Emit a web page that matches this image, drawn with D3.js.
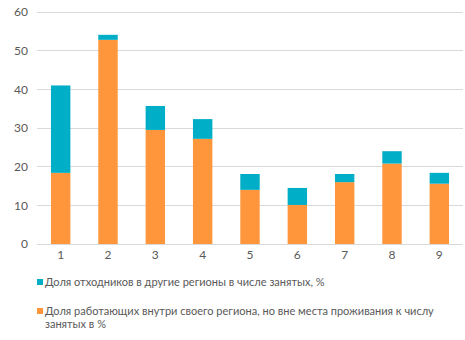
<!DOCTYPE html>
<html><head><meta charset="utf-8">
<script src="https://cdn.jsdelivr.net/npm/d3@7"></script>
<style>body{margin:0;background:#fff}text{font-family:Lato,"Open Sans",sans-serif;fill:#595959}</style>
</head><body><svg id="c" width="465" height="340"></svg>
<script>
const categories = ["1","2","3","4","5","6","7","8","9"];
const intraRegion = [18.4, 52.8, 29.5, 27.2, 14.0, 10.1, 16.0, 20.8, 15.6];
const otkhodniki = [22.6, 1.3, 6.2, 5.1, 4.1, 4.4, 2.1, 3.2, 2.8];
const yTicks = [0, 10, 20, 30, 40, 50, 60];
const seriesNames = ["Доля отходников в другие регионы в числе занятых, %",
  "Доля работающих внутри своего региона, но вне места проживания к числу занятых в %"];
const colors = ["#00AEC7", "#FF963C"];

const svg = d3.select("#c");
const x = d3.scaleBand().domain(categories).range([37, 463]).paddingInner(0.59).paddingOuter(0.295);
const y = d3.scaleLinear().domain([0, 60]).range([244, 12]);

svg.append("g").selectAll("line").data(yTicks).join("line")
  .attr("x1", 37).attr("x2", 463).attr("y1", d => y(d)).attr("y2", d => y(d))
  .attr("stroke", "#d9d9d9").attr("stroke-width", 1).attr("shape-rendering", "crispEdges");

const yAxis = svg.append("g").attr("transform", "translate(28,0)")
  .call(d3.axisLeft(y).tickValues(yTicks).tickSize(0).tickPadding(0));
yAxis.select(".domain").remove();
yAxis.selectAll("text").style("font-size", "12px").style("fill", "#595959").style("font-family", "Lato,sans-serif");

const xAxis = svg.append("g").attr("transform", "translate(0,250)")
  .call(d3.axisBottom(x).tickSize(0).tickPadding(0));
xAxis.select(".domain").remove();
xAxis.selectAll("text").style("font-size", "12px").style("fill", "#595959").style("font-family", "Lato,sans-serif");

const stacked = categories.map((c, i) => ({c, a: intraRegion[i], b: otkhodniki[i]}));
svg.append("g").selectAll("rect").data(stacked).join("rect")
  .attr("x", d => x(d.c)).attr("width", x.bandwidth())
  .attr("y", d => y(d.a)).attr("height", d => y(0) - y(d.a)).attr("fill", colors[1]);
svg.append("g").selectAll("rect").data(stacked).join("rect")
  .attr("x", d => x(d.c)).attr("width", x.bandwidth())
  .attr("y", d => y(d.a + d.b)).attr("height", d => y(d.a) - y(d.a + d.b)).attr("fill", colors[0]);

const leg = svg.append("g");
leg.append("rect").attr("x", 37).attr("y", 279).attr("width", 6).attr("height", 6).attr("fill", colors[0]);
const t1 = leg.append("text").attr("x", 45).attr("y", 286).style("font-size", "12px").text(seriesNames[0]);
leg.append("rect").attr("x", 37).attr("y", 308).attr("width", 6).attr("height", 6).attr("fill", colors[1]);
const t2 = leg.append("text").attr("x", 45).attr("y", 315).style("font-size", "12px");
const words = seriesNames[1].split(" ");
t2.append("tspan").attr("x", 45).text(words.slice(0, -3).join(" "));
t2.append("tspan").attr("x", 45).attr("dy", 13).text(words.slice(-3).join(" "));
// fit font size so legend line width matches reference (~280px)
const w = t1.node().getComputedTextLength();
const fs = Math.min(13, 12 * 280 / w);
t1.style("font-size", fs + "px");
t2.style("font-size", fs + "px");
</script></body></html>
